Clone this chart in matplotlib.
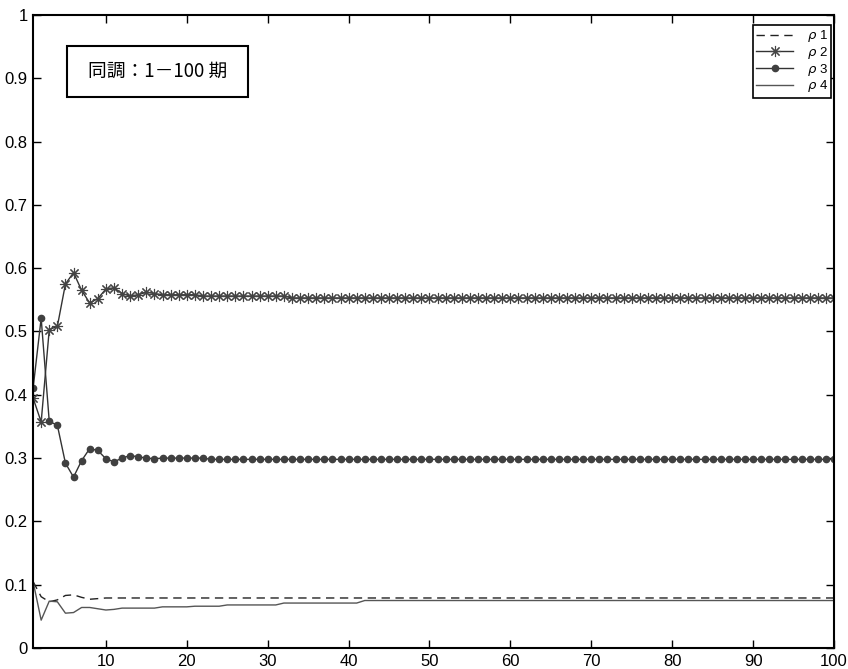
import matplotlib.pyplot as plt
from matplotlib.patches import Rectangle
import numpy as np

plt.rcParams['font.family'] = ['Liberation Sans', 'DejaVu Sans']

periods = np.arange(1, 101)

rho1 = [0.105, 0.081, 0.073, 0.076, 0.083, 0.084, 0.080, 0.077, 0.078, 0.079,
        0.079, 0.079, 0.079, 0.079, 0.079, 0.079, 0.079, 0.079, 0.079, 0.079,
        0.079, 0.079, 0.079, 0.079, 0.079, 0.079, 0.079, 0.079, 0.079, 0.079,
        0.079, 0.079, 0.079, 0.079, 0.079, 0.079, 0.079, 0.079, 0.079, 0.079,
        0.079, 0.079, 0.079, 0.079, 0.079, 0.079, 0.079, 0.079, 0.079, 0.079,
        0.079, 0.079, 0.079, 0.079, 0.079, 0.079, 0.079, 0.079, 0.079, 0.079,
        0.079, 0.079, 0.079, 0.079, 0.079, 0.079, 0.079, 0.079, 0.079, 0.079,
        0.079, 0.079, 0.079, 0.079, 0.079, 0.079, 0.079, 0.079, 0.079, 0.079,
        0.079, 0.079, 0.079, 0.079, 0.079, 0.079, 0.079, 0.079, 0.079, 0.079,
        0.079, 0.079, 0.079, 0.079, 0.079, 0.079, 0.079, 0.079, 0.079, 0.079]

rho2 = [0.395, 0.357, 0.503, 0.508, 0.575, 0.593, 0.565, 0.545, 0.552, 0.567,
        0.569, 0.560, 0.556, 0.558, 0.562, 0.560, 0.558, 0.558, 0.558, 0.558,
        0.558, 0.556, 0.556, 0.556, 0.556, 0.556, 0.556, 0.556, 0.556, 0.556,
        0.556, 0.556, 0.553, 0.553, 0.553, 0.553, 0.553, 0.553, 0.553, 0.553,
        0.553, 0.553, 0.553, 0.553, 0.553, 0.553, 0.553, 0.553, 0.553, 0.553,
        0.553, 0.553, 0.553, 0.553, 0.553, 0.553, 0.553, 0.553, 0.553, 0.553,
        0.553, 0.553, 0.553, 0.553, 0.553, 0.553, 0.553, 0.553, 0.553, 0.553,
        0.553, 0.553, 0.553, 0.553, 0.553, 0.553, 0.553, 0.553, 0.553, 0.553,
        0.553, 0.553, 0.553, 0.553, 0.553, 0.553, 0.553, 0.553, 0.553, 0.553,
        0.553, 0.553, 0.553, 0.553, 0.553, 0.553, 0.553, 0.553, 0.553, 0.553]

rho3 = [0.410, 0.521, 0.358, 0.352, 0.292, 0.270, 0.296, 0.315, 0.312, 0.299,
        0.294, 0.300, 0.304, 0.302, 0.300, 0.299, 0.300, 0.300, 0.300, 0.300,
        0.300, 0.300, 0.298, 0.298, 0.298, 0.298, 0.298, 0.298, 0.298, 0.298,
        0.298, 0.298, 0.298, 0.298, 0.298, 0.298, 0.298, 0.298, 0.298, 0.298,
        0.298, 0.298, 0.298, 0.298, 0.298, 0.298, 0.298, 0.298, 0.298, 0.298,
        0.298, 0.298, 0.298, 0.298, 0.298, 0.298, 0.298, 0.298, 0.298, 0.298,
        0.298, 0.298, 0.298, 0.298, 0.298, 0.298, 0.298, 0.298, 0.298, 0.298,
        0.298, 0.298, 0.298, 0.298, 0.298, 0.298, 0.298, 0.298, 0.298, 0.298,
        0.298, 0.298, 0.298, 0.298, 0.298, 0.298, 0.298, 0.298, 0.298, 0.298,
        0.298, 0.298, 0.298, 0.298, 0.298, 0.298, 0.298, 0.298, 0.298, 0.298]

rho4 = [0.105, 0.044, 0.074, 0.073, 0.055, 0.056, 0.064, 0.064, 0.062, 0.060,
        0.061, 0.063, 0.063, 0.063, 0.063, 0.063, 0.065, 0.065, 0.065, 0.065,
        0.066, 0.066, 0.066, 0.066, 0.068, 0.068, 0.068, 0.068, 0.068, 0.068,
        0.068, 0.071, 0.071, 0.071, 0.071, 0.071, 0.071, 0.071, 0.071, 0.071,
        0.071, 0.075, 0.075, 0.075, 0.075, 0.075, 0.075, 0.075, 0.075, 0.075,
        0.075, 0.075, 0.075, 0.075, 0.075, 0.075, 0.075, 0.075, 0.075, 0.075,
        0.075, 0.075, 0.075, 0.075, 0.075, 0.075, 0.075, 0.075, 0.075, 0.075,
        0.075, 0.075, 0.075, 0.075, 0.075, 0.075, 0.075, 0.075, 0.075, 0.075,
        0.075, 0.075, 0.075, 0.075, 0.075, 0.075, 0.075, 0.075, 0.075, 0.075,
        0.075, 0.075, 0.075, 0.075, 0.075, 0.075, 0.075, 0.075, 0.075, 0.075]

labels = [r'$\rho$ 1', r'$\rho$ 2', r'$\rho$ 3', r'$\rho$ 4']
title_text = '同調：1－100 期'

fig = plt.figure(figsize=(8.48, 6.69), dpi=100)
ax = fig.add_axes([0.039, 0.0314, 0.9445, 0.9462])

ax.plot(periods, rho1, color='#222222', lw=1.0, ls=(0, (6, 4)), label=labels[0])
ax.plot(periods, rho2, color='#333333', lw=1.0, marker=(8, 2, 0), ms=8,
        mew=0.8, mec='#444444', label=labels[1])
ax.plot(periods, rho3, color='#333333', lw=1.0, marker='o', ms=4.5,
        mfc='#404040', mec='#404040', label=labels[2])
ax.plot(periods, rho4, color='#555555', lw=1.0, label=labels[3])

ax.set_xlim(1, 100)
ax.set_ylim(0, 1)
ax.set_xticks(np.arange(10, 101, 10))
ax.set_yticks(np.arange(0, 1.01, 0.1))
ax.set_yticklabels(['0', '0.1', '0.2', '0.3', '0.4', '0.5', '0.6', '0.7', '0.8', '0.9', '1'])
ax.tick_params(direction='in', top=True, right=True, length=6, width=1,
               labelsize=12, pad=4)
for sp in ax.spines.values():
    sp.set_linewidth(1.5)

leg = ax.legend(loc='upper right', bbox_to_anchor=(1 - 3 / 800, 1 - 10 / 633),
                borderaxespad=0, fontsize=9.5, fancybox=False, framealpha=1,
                edgecolor='black', handlelength=2.8, labelspacing=0.05,
                borderpad=0.25, handletextpad=1.0)
leg.get_frame().set_linewidth(1.2)

# annotation box
ax.add_patch(Rectangle((0.0425, 0.871), 0.226, 0.08, transform=ax.transAxes,
                       fill=False, edgecolor='black', lw=1.5))
ax.text(0.1555, 0.911, title_text, transform=ax.transAxes, ha='center', va='center',
        fontsize=13.5, family=['Noto Sans CJK JP', 'DejaVu Sans'])

plt.savefig('out.png', dpi=100)
plt.close()
